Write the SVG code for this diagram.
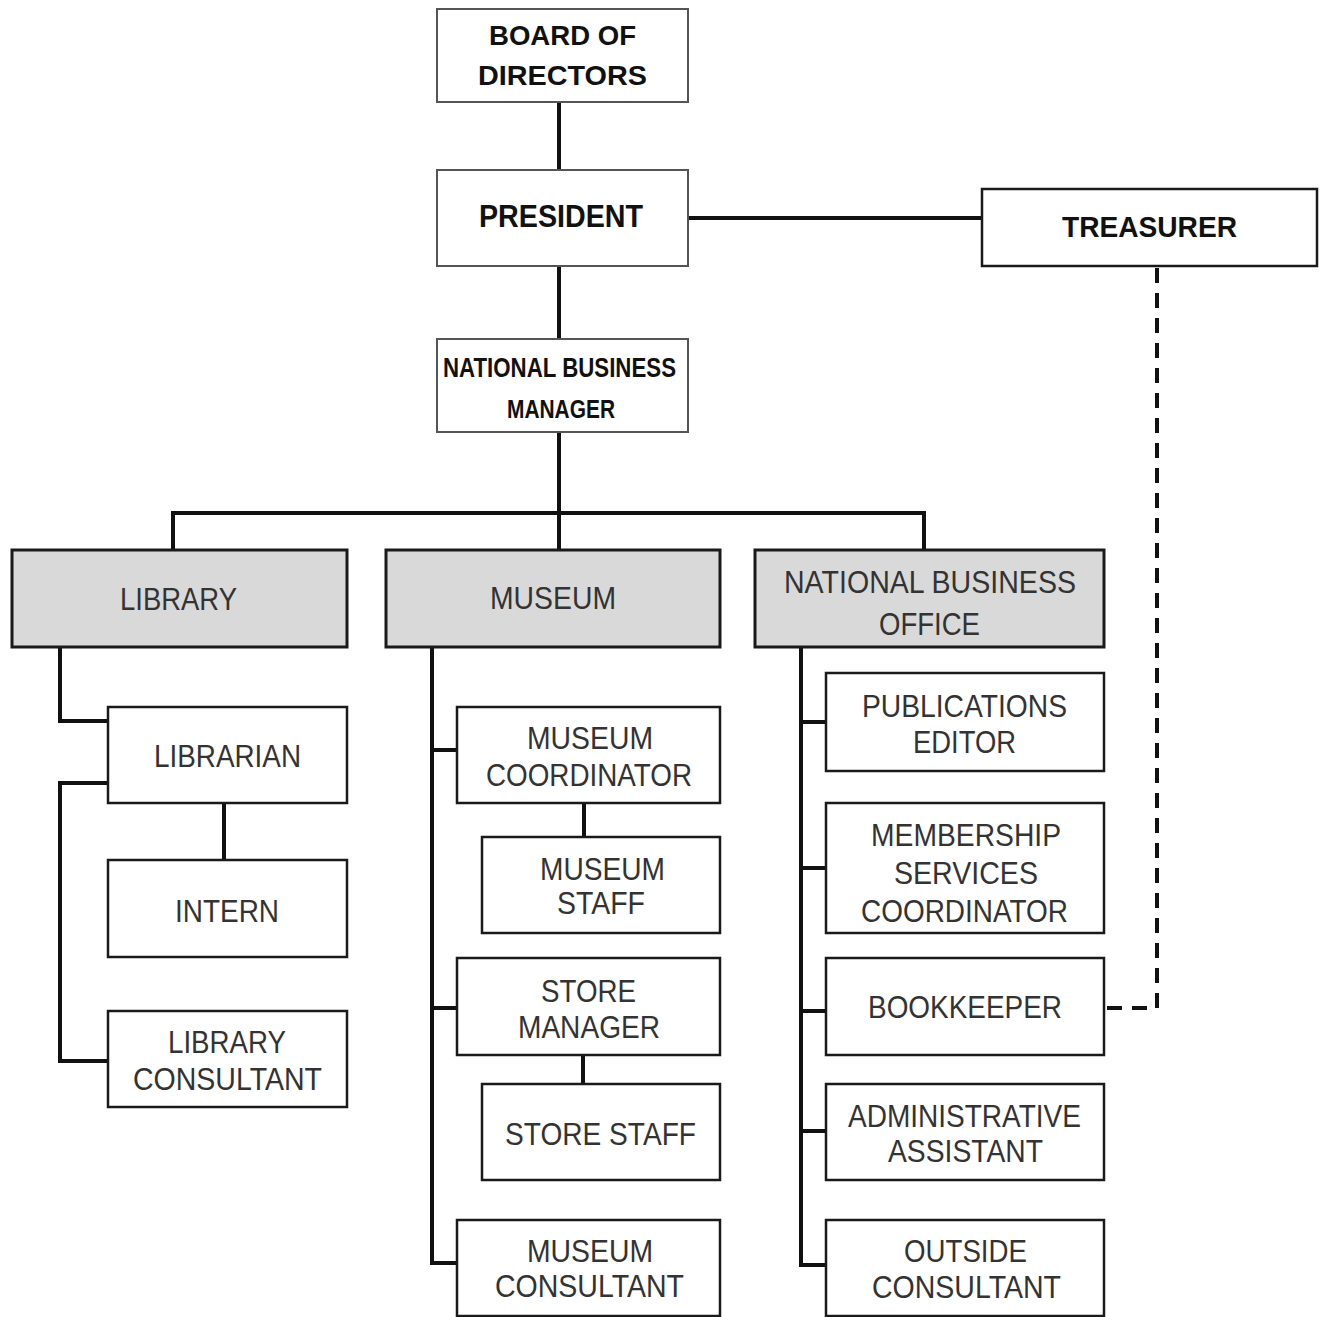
<svg xmlns="http://www.w3.org/2000/svg" width="1324" height="1317" viewBox="0 0 1324 1317">
<style>
.box{fill:#fff;stroke:#1a1a1a;stroke-width:2.5}
.grey{fill:#d9d9d9;stroke:#1a1a1a;stroke-width:3}
.thin{fill:#fff;stroke:#555;stroke-width:2}
.b{font-family:"Liberation Sans",Arial,sans-serif;font-weight:bold;fill:#111;text-anchor:middle}
.r{font-family:"Liberation Sans",Arial,sans-serif;font-size:31px;fill:#333;text-anchor:middle}
.ln{fill:none;stroke:#111;stroke-width:4;stroke-linecap:square}
.dash{fill:none;stroke:#111;stroke-width:4;stroke-dasharray:15 10}
</style>
<rect width="1324" height="1317" fill="#fff"/>
<g id="connectors">
<path class="ln" d="M559 102V170M559 266V339M559 432V513M688 218H982"/>
<path class="ln" d="M173 549V513H924V549M559 513V549"/>
<path class="ln" d="M60 647V721H108M108 783H60V1061H108M224 803V860"/>
<path class="ln" d="M432 647V1263H457M432 750H457M432 1008H457M584 803V837M583 1055V1084"/>
<path class="ln" d="M801 647V1265H825M801 722H825M801 868H825M801 1011H825M801 1131H825"/>
<path class="dash" d="M1157 268V1008H1104"/>
</g>
<g id="board"><rect class="thin" x="437" y="9" width="251" height="93"/>
<text class="b" font-size="28" x="562.5" y="45" textLength="147" lengthAdjust="spacingAndGlyphs">BOARD OF</text>
<text class="b" font-size="28" x="562.5" y="85" textLength="169" lengthAdjust="spacingAndGlyphs">DIRECTORS</text></g>
<g id="president"><rect class="thin" x="437" y="170" width="251" height="96"/>
<text class="b" font-size="31" x="561" y="227" textLength="164" lengthAdjust="spacingAndGlyphs">PRESIDENT</text></g>
<g id="treasurer"><rect class="box" x="982" y="189" width="335" height="77"/>
<text class="b" font-size="30" x="1149.5" y="237" textLength="175" lengthAdjust="spacingAndGlyphs">TREASURER</text></g>
<g id="nbm"><rect class="thin" x="437" y="339" width="251" height="93"/>
<text class="b" font-size="27" x="559.5" y="377" textLength="233" lengthAdjust="spacingAndGlyphs">NATIONAL BUSINESS</text>
<text class="b" font-size="26" x="561" y="418" textLength="108" lengthAdjust="spacingAndGlyphs">MANAGER</text></g>
<g id="library"><rect class="grey" x="12" y="550" width="335" height="97"/>
<text class="r" x="178.5" y="610" textLength="117" lengthAdjust="spacingAndGlyphs">LIBRARY</text></g>
<g id="museum"><rect class="grey" x="386" y="550" width="334" height="97"/>
<text class="r" x="553" y="609" textLength="126" lengthAdjust="spacingAndGlyphs">MUSEUM</text></g>
<g id="nbo"><rect class="grey" x="755" y="550" width="349" height="97"/>
<text class="r" x="930" y="593" textLength="292" lengthAdjust="spacingAndGlyphs">NATIONAL BUSINESS</text>
<text class="r" x="929.5" y="635" textLength="101" lengthAdjust="spacingAndGlyphs">OFFICE</text></g>
<g id="librarian"><rect class="box" x="108" y="707" width="239" height="96"/>
<text class="r" x="227.5" y="767" textLength="147" lengthAdjust="spacingAndGlyphs">LIBRARIAN</text></g>
<g id="intern"><rect class="box" x="108" y="860" width="239" height="97"/>
<text class="r" x="227" y="922" textLength="104" lengthAdjust="spacingAndGlyphs">INTERN</text></g>
<g id="library-consultant"><rect class="box" x="108" y="1011" width="239" height="96"/>
<text class="r" x="227" y="1053" textLength="118" lengthAdjust="spacingAndGlyphs">LIBRARY</text>
<text class="r" x="227.5" y="1090" textLength="189" lengthAdjust="spacingAndGlyphs">CONSULTANT</text></g>
<g id="museum-coordinator"><rect class="box" x="457" y="707" width="263" height="96"/>
<text class="r" x="590" y="749" textLength="126" lengthAdjust="spacingAndGlyphs">MUSEUM</text>
<text class="r" x="589" y="786" textLength="206" lengthAdjust="spacingAndGlyphs">COORDINATOR</text></g>
<g id="museum-staff"><rect class="box" x="482" y="837" width="238" height="96"/>
<text class="r" x="602.5" y="880" textLength="125" lengthAdjust="spacingAndGlyphs">MUSEUM</text>
<text class="r" x="601" y="914" textLength="88" lengthAdjust="spacingAndGlyphs">STAFF</text></g>
<g id="store-manager"><rect class="box" x="457" y="958" width="263" height="97"/>
<text class="r" x="588.5" y="1002" textLength="95" lengthAdjust="spacingAndGlyphs">STORE</text>
<text class="r" x="589" y="1038" textLength="142" lengthAdjust="spacingAndGlyphs">MANAGER</text></g>
<g id="store-staff"><rect class="box" x="482" y="1084" width="238" height="96"/>
<text class="r" x="600.5" y="1145" textLength="191" lengthAdjust="spacingAndGlyphs">STORE STAFF</text></g>
<g id="museum-consultant"><rect class="box" x="457" y="1220" width="263" height="96"/>
<text class="r" x="590" y="1262" textLength="126" lengthAdjust="spacingAndGlyphs">MUSEUM</text>
<text class="r" x="589.5" y="1297" textLength="189" lengthAdjust="spacingAndGlyphs">CONSULTANT</text></g>
<g id="publications-editor"><rect class="box" x="826" y="673" width="278" height="98"/>
<text class="r" x="964.5" y="717" textLength="205" lengthAdjust="spacingAndGlyphs">PUBLICATIONS</text>
<text class="r" x="964.5" y="753" textLength="103" lengthAdjust="spacingAndGlyphs">EDITOR</text></g>
<g id="membership"><rect class="box" x="826" y="803" width="278" height="130"/>
<text class="r" x="966" y="846" textLength="190" lengthAdjust="spacingAndGlyphs">MEMBERSHIP</text>
<text class="r" x="966" y="884" textLength="144" lengthAdjust="spacingAndGlyphs">SERVICES</text>
<text class="r" x="964.5" y="922" textLength="207" lengthAdjust="spacingAndGlyphs">COORDINATOR</text></g>
<g id="bookkeeper"><rect class="box" x="826" y="958" width="278" height="97"/>
<text class="r" x="965" y="1018" textLength="194" lengthAdjust="spacingAndGlyphs">BOOKKEEPER</text></g>
<g id="admin-assistant"><rect class="box" x="826" y="1084" width="278" height="96"/>
<text class="r" x="964.5" y="1127" textLength="233" lengthAdjust="spacingAndGlyphs">ADMINISTRATIVE</text>
<text class="r" x="965.5" y="1162" textLength="155" lengthAdjust="spacingAndGlyphs">ASSISTANT</text></g>
<g id="outside-consultant"><rect class="box" x="826" y="1220" width="278" height="96"/>
<text class="r" x="965.5" y="1262" textLength="123" lengthAdjust="spacingAndGlyphs">OUTSIDE</text>
<text class="r" x="966.5" y="1298" textLength="189" lengthAdjust="spacingAndGlyphs">CONSULTANT</text></g>
</svg>
